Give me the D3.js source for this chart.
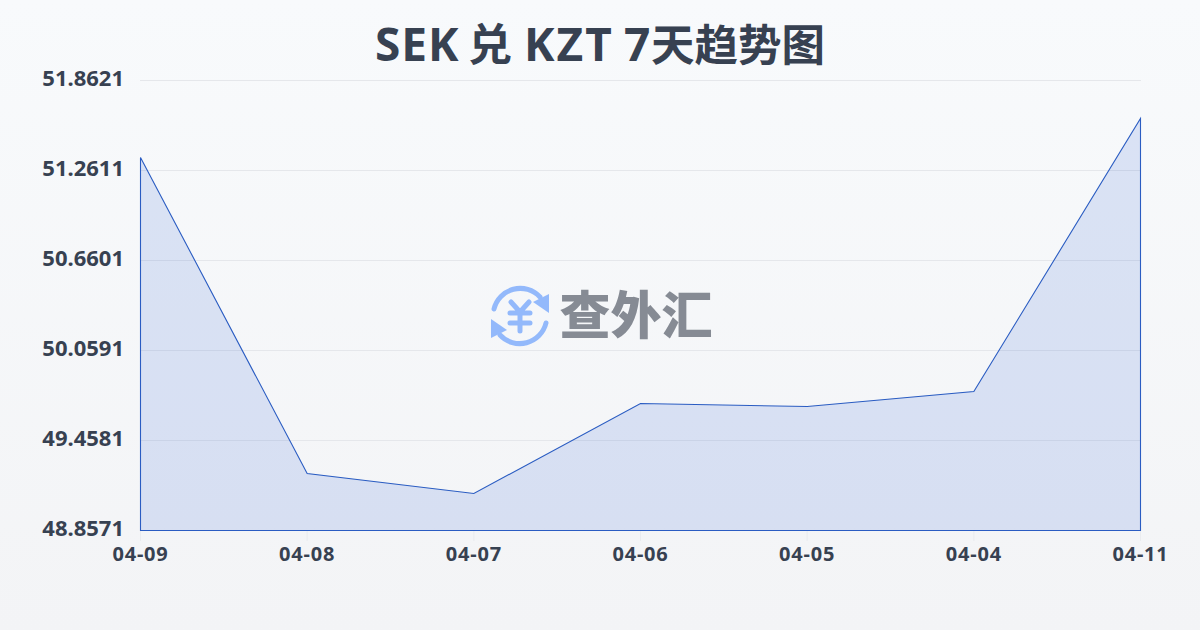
<!DOCTYPE html>
<html><head><meta charset="utf-8">
<script src="https://cdn.jsdelivr.net/npm/d3@7/dist/d3.min.js"></script>
<style>html,body{margin:0;padding:0;width:1200px;height:630px;overflow:hidden}svg{display:block}
text{font-family:"Noto Sans","Noto Sans CJK SC",sans-serif;font-weight:700;fill:#374151}</style>
</head><body><svg id="c" width="1200" height="630"></svg>
<script>
const titleParts = ["SEK","兑","KZT","7","天趋势图"];
const titleStarts = [375,468,524,624,651];
const titleSizes = [46,44,46,46,43.5];
const titleSpacing = [1,0,2,0,0];
const dates = ["04-09","04-08","04-07","04-06","04-05","04-04","04-11"];
const rates = [51.348,49.238,49.104,49.705,49.685,49.785,51.608];
const yTicks = [48.8571,49.4581,50.0591,50.6601,51.2611,51.8621];
const yLabels = ["48.8571","49.4581","50.0591","50.6601","51.2611","51.8621"];
const watermarkText = "查外汇";

const svg = d3.select("#c");
const defs = svg.append("defs");
const bg = defs.append("linearGradient").attr("id","bg").attr("x1",0).attr("y1",0).attr("x2",0).attr("y2",1);
bg.append("stop").attr("offset",0).attr("stop-color","#f8fafc");
bg.append("stop").attr("offset",1).attr("stop-color","#f3f4f6");
svg.append("rect").attr("width",1200).attr("height",630).attr("fill","url(#bg)");

const x = d3.scalePoint().domain(dates).range([140.5,1140.5]);
const y = d3.scaleLinear().domain([yTicks[0],yTicks[yTicks.length-1]]).range([530.5,80.5]);

svg.append("g").selectAll("line").data(yTicks.slice(1)).join("line")
  .attr("x1",140).attr("x2",1141).attr("y1",d=>Math.round(y(d)-.5)+.5).attr("y2",d=>Math.round(y(d)-.5)+.5)
  .attr("stroke","#e5e7eb").attr("stroke-width",1);
svg.append("g").selectAll("line").data(dates).join("line")
  .attr("x1",d=>x(d)).attr("x2",d=>x(d)).attr("y1",531).attr("y2",541)
  .attr("stroke","#e5e7eb").attr("stroke-width",1).attr("opacity",.6);

const area = d3.area().x((d,i)=>x(dates[i])).y0(y(yTicks[0])).y1(d=>y(d));
svg.append("path").datum(rates).attr("d",area).attr("fill","#2a5bd7").attr("fill-opacity",.14);
const outline = d3.line().x(d=>x(d[0])).y(d=>y(d[1]));
const closed = [[dates[0],yTicks[0]]].concat(rates.map((r,i)=>[dates[i],r])).concat([[dates[6],yTicks[0]]]);
svg.append("path").attr("d",outline(closed)+"Z").attr("fill","none").attr("stroke","#2a5cc2").attr("stroke-width",1.1);

// watermark
const wm = svg.append("g");
const blue="#93b9fb";
const ic = wm.append("g").attr("transform","translate(520,316)").attr("fill","none").attr("stroke",blue).attr("stroke-linecap","round");
ic.append("path").attr("d","M-26,-7 A27,27 0 0 1 20,-19").attr("stroke-width",5);
ic.append("path").attr("d","M26,7 A27,27 0 0 1 -20,19").attr("stroke-width",5);
ic.append("path").attr("d","M13,-14 L29,-22 L29,-3 Z").attr("fill",blue).attr("stroke","none");
ic.append("path").attr("d","M-13,14 L-29,22 L-29,3 Z").attr("fill",blue).attr("stroke","none");
ic.append("path").attr("d","M-9,-14 L0,-4 L9,-14 M-10,-3 H10 M-10,7 H10 M0,-4 V15").attr("stroke-width",5);
wm.append("text").attr("x",636).attr("y",334).attr("text-anchor","middle")
  .style("font-family",'"Noto Sans CJK SC"').style("font-weight",900)
  .style("font-size","51px").style("fill","#868b94").text(watermarkText);

svg.append("g").selectAll("text").data(yTicks).join("text")
  .attr("x",124).attr("y",d=>y(d)).attr("text-anchor","end").attr("dy","0.26em")
  .style("font-size","22px").text((d,i)=>yLabels[i]);
svg.append("g").selectAll("text").data(dates).join("text")
  .attr("x",d=>x(d)).attr("y",561).attr("text-anchor","middle")
  .style("font-size","20px").style("letter-spacing","0.8px").text(d=>d);
svg.append("text").attr("y",61).selectAll("tspan").data(titleParts).join("tspan")
  .attr("x",(d,i)=>titleStarts[i])
  .style("font-size",(d,i)=>titleSizes[i]+"px")
  .style("letter-spacing",(d,i)=>titleSpacing[i]+"px").text(d=>d);
</script></body></html>
